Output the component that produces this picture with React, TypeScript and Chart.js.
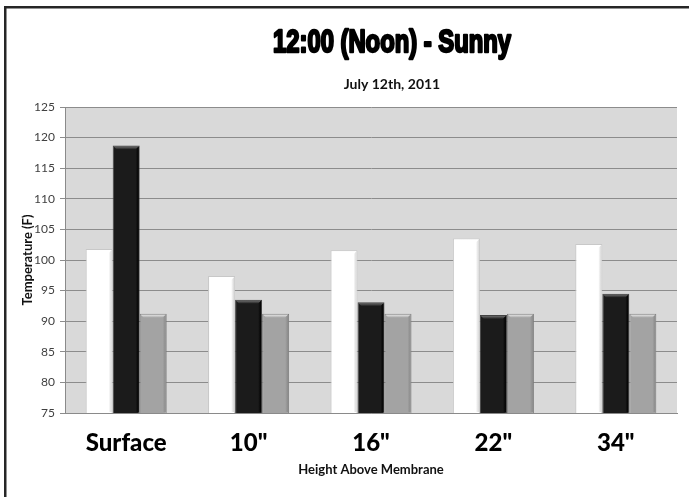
import React, { useEffect, useRef } from "react";
import { Chart, registerables } from "chart.js";

Chart.register(...registerables);

const TITLE = "12:00 (Noon) - Sunny";
const SUBTITLE = "July 12th, 2011";
const X_TITLE = "Height Above Membrane";
const Y_TITLE = "Temperature (F)";

const categories = ["Surface", '10"', '16"', '22"', '34"'];
const seriesWhite = [101.8, 97.4, 101.6, 103.5, 102.6];
const seriesBlack = [118.7, 93.5, 93.1, 91.0, 94.5];
const seriesGray = [91.2, 91.2, 91.2, 91.2, 91.2];

const Y_MIN = 75;
const Y_MAX = 125;
const Y_STEP = 5;

const W = 689;
const H = 497;

const fillColors = ["#ffffff", "#1b1b1b", "#a3a3a3"];
const borderColors = ["#c8c8c8", "#444444", "#7d7d7d"];
const bevelTop = ["#ffffff", "#6a6a6a", "#e2e2e2"];
const bevelSide = ["#d6d6d6", "#000000", "#8a8a8a"];

const framePlugin = {
  id: "frameAndBg",
  beforeDraw(chart: any) {
    const { ctx, chartArea } = chart;
    ctx.save();
    ctx.fillStyle = "#ffffff";
    ctx.fillRect(0, 0, chart.width, chart.height);
    ctx.fillStyle = "#d9d9d9";
    ctx.fillRect(
      chartArea.left,
      chartArea.top,
      chartArea.right - chartArea.left,
      chartArea.bottom - chartArea.top
    );
    ctx.restore();
  },
  afterDraw(chart: any) {
    const { ctx } = chart;
    ctx.save();
    ctx.strokeStyle = "#262626";
    ctx.lineWidth = 2.5;
    ctx.strokeRect(5.25, 7.25, chart.width + 50, chart.height + 50);

    // main title (condensed heavy look)
    ctx.font = 'bold 31px "Liberation Sans Narrow", "Liberation Sans", sans-serif';
    const w = ctx.measureText(TITLE).width;
    const sx = 238 / w;
    ctx.translate(392, 52);
    ctx.scale(sx, 1);
    ctx.textAlign = "center";
    ctx.textBaseline = "alphabetic";
    ctx.fillStyle = "#000";
    ctx.strokeStyle = "#000";
    ctx.lineJoin = "round";
    ctx.lineWidth = 2.4;
    ctx.fillText(TITLE, 0, 0);
    ctx.strokeText(TITLE, 0, 0);
    ctx.restore();

    ctx.save();
    ctx.font = 'bold 14px Lato, "Open Sans", sans-serif';
    ctx.textAlign = "center";
    ctx.textBaseline = "alphabetic";
    ctx.fillStyle = "#111";
    ctx.fillText(SUBTITLE, 392, 89);
    ctx.restore();
  },
};

const bevelPlugin = {
  id: "bevel",
  afterDatasetsDraw(chart: any) {
    const { ctx, chartArea } = chart;
    chart.data.datasets.forEach((_: any, di: number) => {
      const meta = chart.getDatasetMeta(di);
      meta.data.forEach((el: any) => {
        const p = el.getProps(["x", "y", "base", "width"], true);
        const l = p.x - p.width / 2 + 1;
        const r = p.x + p.width / 2 - 1;
        const t = p.y + 1;
        const b = Math.min(p.base, chartArea.bottom) - 1;
        const bv = 3;
        ctx.save();
        ctx.beginPath();
        ctx.rect(chartArea.left, chartArea.top, chartArea.right - chartArea.left, chartArea.bottom - chartArea.top);
        ctx.clip();
        const g = ctx.createLinearGradient(0, t, 0, t + bv);
        g.addColorStop(0, bevelTop[di]);
        g.addColorStop(1, fillColors[di]);
        ctx.fillStyle = g;
        ctx.beginPath();
        ctx.moveTo(l, t);
        ctx.lineTo(r, t);
        ctx.lineTo(r - bv, t + bv);
        ctx.lineTo(l + bv, t + bv);
        ctx.closePath();
        ctx.fill();
        const g2 = ctx.createLinearGradient(r - bv, 0, r, 0);
        g2.addColorStop(0, fillColors[di]);
        g2.addColorStop(1, bevelSide[di]);
        ctx.fillStyle = g2;
        ctx.beginPath();
        ctx.moveTo(r, t);
        ctx.lineTo(r, b);
        ctx.lineTo(r - bv, b);
        ctx.lineTo(r - bv, t + bv);
        ctx.closePath();
        ctx.fill();
        ctx.restore();
      });
    });
  },
};

export default function App() {
  const ref = useRef<HTMLCanvasElement | null>(null);

  useEffect(() => {
    if (!ref.current) return;
    const mk = (label: string, data: number[], i: number) => ({
      label,
      data,
      backgroundColor: fillColors[i],
      borderColor: borderColors[i],
      borderWidth: 1,
      borderSkipped: "bottom" as const,
      categoryPercentage: 0.662,
      barPercentage: 1,
    });
    const chart = new Chart(ref.current, {
      type: "bar",
      data: {
        labels: categories,
        datasets: [
          mk("A", seriesWhite, 0),
          mk("B", seriesBlack, 1),
          mk("C", seriesGray, 2),
        ],
      },
      plugins: [framePlugin, bevelPlugin],
      options: {
        responsive: false,
        animation: false,
        events: [],
        layout: { padding: { top: 107, right: 12, left: 0, bottom: 0 } },
        plugins: {
          legend: { display: false },
          tooltip: { enabled: false },
          title: { display: false },
        },
        scales: {
          x: {
            afterFit(scale: any) {
              scale.height = 84;
            },
            grid: { display: false, drawTicks: false },
            border: { display: true, color: "#8a8a8a", width: 1 },
            ticks: {
              color: "#000",
              padding: 16,
              font: { family: 'Lato, "Open Sans", sans-serif', size: 24, weight: 900 },
            },
            title: {
              display: true,
              text: X_TITLE,
              color: "#111",
              padding: { top: 0, bottom: 19 },
              font: { family: 'Lato, "Open Sans", sans-serif', size: 13, weight: "bold" },
            },
          },
          y: {
            min: Y_MIN,
            max: Y_MAX,
            afterFit(scale: any) {
              scale.width = 65;
            },
            grid: {
              color: "#8c8c8c",
              lineWidth: 1,
              drawTicks: true,
              tickLength: 5,
            },
            border: { display: true, color: "#8a8a8a", width: 1 },
            ticks: {
              stepSize: Y_STEP,
              color: "#404040",
              padding: 5,
              font: { family: 'Lato, "Open Sans", sans-serif', size: 12 },
            },
            title: {
              display: true,
              text: Y_TITLE,
              color: "#111",
              padding: { top: 20, bottom: 0 },
              font: { family: 'Lato, "Open Sans", sans-serif', size: 13, weight: "bold" },
            },
          },
        },
      },
    });
    return () => chart.destroy();
  }, []);

  return (
    <div
      style={{
        position: "fixed",
        left: 0,
        top: 0,
        width: W,
        height: H,
        overflow: "hidden",
        background: "#fff",
      }}
    >
      <canvas ref={ref} width={W} height={H} style={{ display: "block" }} />
    </div>
  );
}
